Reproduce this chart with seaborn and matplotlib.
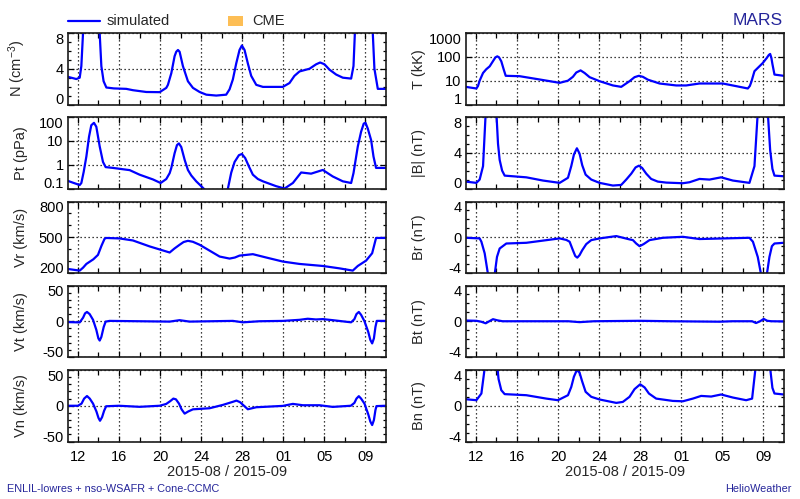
import pandas as pd
import matplotlib
matplotlib.use("Agg")
import matplotlib.pyplot as plt
import matplotlib.dates as mdates
from matplotlib.lines import Line2D
from matplotlib.patches import Rectangle
from matplotlib.ticker import AutoMinorLocator, NullLocator, FixedLocator
import seaborn as sns

# ==========================================
# DATA  (time = days after 2015-08-11 00:00)
# ==========================================
n_days = [0.0, 0.84, 1.17, 1.33, 1.45, 1.56, 1.9, 2.3, 2.7, 3.05, 3.28, 3.5, 3.77, 4.5, 5.71, 6.36,
          7.66, 8.96, 9.61, 9.77, 10.1, 10.42, 10.58, 10.75, 10.91, 11.23, 11.72, 12.21, 12.86,
          13.51, 14.48, 15.45, 15.78, 16.1, 16.43, 16.75, 16.98, 17.24, 17.56, 17.89, 18.38, 19.03,
          20.97, 21.62, 22.1, 22.6, 23.57, 24.22, 24.61, 25.03, 25.52, 26.17, 26.82, 27.63, 27.86,
          28.05, 28.5, 29.0, 29.5, 29.68, 29.9, 30.23, 31.0]
n_vals = [3.1, 2.85, 3.0, 4.3, 7.0, 9.5, 18, 24, 20, 9.5, 4.3, 2.6, 1.9, 1.8, 1.75, 1.6, 1.4, 1.38,
          1.86, 2.2, 3.5, 5.4, 5.9, 6.1, 5.9, 4.3, 2.6, 1.86, 1.4, 1.1, 1.0, 1.1, 1.7, 2.8, 4.6, 6.1,
          6.6, 6.1, 4.6, 3.2, 2.2, 1.97, 1.97, 2.4, 3.2, 3.7, 4.0, 4.5, 4.7, 4.5, 3.9, 3.35, 3.0, 2.9,
          4.3, 9.5, 20, 26, 18, 9.5, 4.0, 1.75, 1.75]

pt_days = [0.0, 0.6, 1.17, 1.33, 1.56, 1.82, 2.08, 2.3, 2.56, 2.79, 3.12, 3.44, 3.7, 4.42, 6.04,
           7.01, 8.31, 9.06, 9.61, 9.94, 10.1, 10.42, 10.65, 10.84, 11.07, 11.4, 11.72, 12.05,
           12.53, 13.25, 13.67, 14.48, 15.13, 15.62, 15.94, 16.27, 16.69, 16.98, 17.3, 17.66,
           18.05, 18.54, 19.03, 20.32, 21.14, 21.95, 22.76, 23.73, 24.87, 25.84, 26.82, 27.63,
           27.86, 28.28, 28.6, 28.86, 29.03, 29.25, 29.58, 29.81, 30.06, 31.0]
pt_vals = [0.21, 0.17, 0.14, 0.17, 0.5, 2.2, 15, 45, 57, 39, 5.8, 1.3, 0.79, 0.73, 0.59, 0.38, 0.24,
           0.17, 0.25, 0.44, 0.73, 3.0, 6.6, 7.8, 5.5, 1.6, 0.6, 0.35, 0.2, 0.1, 0.06, 0.03, 0.04,
           0.1, 0.46, 1.3, 2.5, 2.8, 1.9, 0.85, 0.38, 0.25, 0.2, 0.125, 0.1, 0.17, 0.47, 0.42, 0.6,
           0.32, 0.2, 0.17, 0.44, 5.8, 24, 53, 57, 33, 10.7, 2.2, 0.73, 0.73]

vr_days = [0.0, 1.17, 1.5, 1.82, 2.5, 2.95, 3.3, 3.6, 3.77, 5.06, 6.36, 7.99, 9.94, 10.4, 10.91,
           11.3, 11.72, 12.2, 12.86, 14.81, 15.78, 16.3, 16.75, 18.05, 19.35, 20.97, 22.6, 24.87,
           26.49, 27.79, 28.28, 29.09, 29.68, 29.9, 30.06, 31.0]
vr_vals = [234, 220, 245, 276, 315, 352, 430, 488, 494, 490, 473, 423, 372, 405, 437, 460, 470,
           462, 437, 338, 321, 330, 346, 358, 330, 296, 276, 259, 239, 220, 259, 304, 366, 440,
           494, 494]

vt_days = [0.03, 1.17, 1.5, 1.69, 1.88, 2.14, 2.47, 2.79, 2.99, 3.12, 3.28, 3.51, 3.7, 4.09, 9.94,
           10.91, 11.88, 16.1, 17.08, 18.7, 21.0, 22.6, 23.4, 24.2, 24.87, 25.84, 27.63, 27.95,
           28.15, 28.38, 28.6, 28.93, 29.3, 29.5, 29.68, 29.85, 30.0, 30.13, 31.0]
vt_vals = [-1.2, -1.6, 5, 11, 13, 10, 2, -12, -24, -27, -22, -8, -0.5, 0.5, -0.5, 1.5, -0.5, 0.5,
           -1.5, 0, 0.5, 2.0, 3.5, 2.5, 3.0, 1.5, -1.5, 3, 10, 13, 9, 0, -15, -26, -31, -24, -8,
           0.5, 0.5]

vn_days = [0.03, 1.0, 1.35, 1.6, 1.88, 2.15, 2.47, 2.8, 3.0, 3.15, 3.35, 3.55, 3.75, 5.0, 7.01, 8.96,
           9.6, 10.0, 10.3, 10.55, 10.85, 11.1, 11.4, 11.75, 12.21, 13.83, 15.13, 16.1, 16.45,
           16.8, 17.56, 18.38, 20.97, 21.95, 22.92, 24.55, 25.84, 27.6, 27.95, 28.15, 28.38, 28.6,
           28.93, 29.3, 29.5, 29.68, 29.85, 30.0, 30.1, 31.0]
vn_vals = [0, 0, 3, 10, 13.6, 10, 3, -8, -17, -21, -16, -7, -0.7, 0, -1.5, 0, 2.5, 6.5, 10, 9, 3,
           -5, -11, -8, -5, -3.5, 1.2, 5.5, 7.2, 5, -4.9, -2.1, -0.2, 2.6, 0.7, 0.7, -1.6, 0, 4,
           10, 13.4, 10, 3, -12, -22, -27, -20, -6, -0.5, 0]

t_days = [0.0, 1.04, 1.2, 1.36, 1.69, 2.0, 2.34, 2.7, 2.9, 3.08, 3.25, 3.47, 3.7, 3.9, 5.26, 7.21,
          9.16, 9.97, 10.45, 10.78, 11.2, 11.59, 12.08, 13.05, 14.35, 15.16, 15.97, 16.46, 16.88,
          17.27, 17.76, 18.9, 20.52, 21.49, 22.79, 25.06, 26.36, 27.5, 27.7, 27.85, 28.15, 28.96,
          29.35, 29.55, 29.68, 29.8, 29.9, 30.1, 31.0]
t_vals = [5.5, 4.7, 6, 10, 21, 30, 40, 70, 95, 105, 95, 65, 30, 16, 15.4, 11.2, 8.1, 10, 14.5, 22,
          27, 21, 14, 9.5, 6.3, 5.5, 9.5, 14, 16, 14.5, 11, 7.6, 6.3, 6.3, 7.6, 7.6, 5.9, 4.7, 6,
          9, 25, 55, 90, 120, 132, 90, 50, 18, 16]

b_days = [0.0, 1.04, 1.36, 1.69, 1.95, 2.2, 2.5, 2.8, 2.99, 3.15, 3.31, 3.55, 3.8, 5.91, 7.53, 9.16,
          9.97, 10.29, 10.55, 10.84, 11.1, 11.36, 11.69, 12.24, 13.05, 14.35, 15.16, 15.65, 16.14,
          16.56, 16.88, 17.2, 17.6, 18.08, 18.73, 19.55, 21.17, 21.82, 22.79, 23.77, 24.9, 26.04,
          27.66, 28.15, 28.47, 28.8, 29.2, 29.45, 29.68, 29.9, 30.1, 31.0]
b_vals = [0.77, 0.63, 1.0, 2.5, 8.5, 14, 16, 13, 8.5, 5.0, 3.2, 2.0, 1.44, 1.25, 0.89, 0.63, 1.2,
          2.5, 3.8, 4.5, 3.9, 2.6, 1.55, 1.0, 0.63, 0.33, 0.4, 1.0, 1.66, 2.36, 2.55, 2.3, 1.66,
          1.07, 0.77, 0.66, 0.59, 0.7, 1.07, 1.0, 1.25, 0.89, 0.63, 2.5, 8.5, 14, 16, 8.5, 4.3,
          2.2, 1.44, 1.37]

br_days = [0.0, 1.36, 1.53, 1.85, 2.18, 2.4, 2.65, 2.82, 3.05, 3.31, 3.96, 5.91, 9.16, 9.81, 10.13,
           10.45, 10.68, 10.88, 11.1, 11.36, 11.75, 12.24, 13.05, 14.68, 15.97, 16.3, 16.62, 16.95,
           17.34, 17.92, 19.22, 21.17, 22.79, 27.66, 28.0, 28.47, 28.8, 29.05, 29.35, 29.61,
           29.85, 30.1, 31.0]
br_vals = [-0.06, -0.13, -0.5, -1.8, -4.2, -7, -7, -4.2, -2.2, -1.26, -0.7, -0.62, -0.13, -0.3,
           -0.5, -1.45, -2.1, -2.28, -2.0, -1.45, -0.77, -0.32, -0.13, 0.13, -0.24, -0.32, -0.7,
           -1.0, -0.77, -0.32, -0.06, 0.05, -0.2, -0.06, -0.5, -2.2, -4.2, -7, -4.2, -2.2, -1.0,
           -0.7, -0.62]

bt_days = [0.0, 1.04, 1.5, 1.95, 2.3, 2.66, 3.1, 3.6, 10.0, 11.1, 12.5, 16.95, 20.0, 24.74, 26.0,
           27.92, 28.3, 28.7, 29.05, 29.4, 29.8, 31.0]
bt_vals = [0.08, 0.05, -0.05, -0.23, 0.0, 0.23, 0.1, 0.0, 0.0, -0.1, 0.0, 0.05, 0.0, -0.05, 0.0,
           0.0, -0.2, 0.0, 0.26, 0.05, 0.0, -0.02]

bn_days = [0.0, 1.04, 1.53, 1.85, 2.2, 2.6, 2.99, 3.2, 3.47, 3.8, 5.91, 7.86, 8.99, 9.97, 10.29,
           10.55, 10.84, 11.1, 11.36, 11.69, 12.24, 13.05, 14.68, 15.32, 15.97, 16.46, 17.01,
           17.44, 17.86, 18.57, 20.19, 21.17, 22.14, 22.95, 23.93, 24.9, 26.04, 27.34, 27.92,
           28.25, 28.6, 29.0, 29.4, 29.68, 29.9, 30.1, 31.0]
bn_vals = [0.73, 0.62, 1.37, 4.2, 9, 11, 5.5, 3.0, 1.74, 1.3, 1.18, 0.8, 0.62, 1.18, 2.1, 3.25,
           4.0, 3.7, 2.7, 1.56, 1.0, 0.7, 0.32, 0.43, 1.0, 1.86, 2.4, 2.05, 1.37, 0.8, 0.54, 0.5,
           0.8, 1.1, 1.03, 1.26, 0.92, 0.62, 0.8, 4.2, 9, 11, 9, 4.2, 2.0, 1.37, 1.26]

start = pd.Timestamp("2015-08-11")
end = pd.Timestamp("2015-09-11")

# ==========================================
# STYLE
# ==========================================
sns.set_theme(style="ticks")
plt.rcParams["font.family"] = ["Liberation Sans", "DejaVu Sans"]
plt.rcParams["mathtext.default"] = "regular"
plt.rcParams["font.size"] = 10

LINE = "#0000ff"
TXT_BLUE = "#25259a"

fig = plt.figure(figsize=(8, 4.99), dpi=100)
W, H = 800.0, 499.0

col_left = [67.7, 465.7]
col_w = 318.0
row_top = [33, 117, 201.5, 285.5, 370]
row_h = 71.5

major_days = pd.date_range("2015-08-12", "2015-09-10", freq="4D")
minor_days = pd.date_range("2015-08-12", "2015-09-10", freq="2D")


def panel(col, row, days, vals, label, ylim, ticks, labels, log=False, nminor=None):
    rect = [col_left[col] / W, 1 - (row_top[row] + row_h) / H, col_w / W, row_h / H]
    ax = fig.add_axes(rect)
    if log:
        ax.set_yscale("log")
    times = start + pd.to_timedelta(days, unit="D")
    sns.lineplot(x=times, y=vals, ax=ax, color=LINE, linewidth=1.6, estimator=None)

    ax.set_xlim(start, end)
    ax.xaxis.set_major_locator(FixedLocator(mdates.date2num(major_days)))
    ax.xaxis.set_minor_locator(FixedLocator(mdates.date2num(minor_days)))
    ax.xaxis.set_major_formatter(mdates.DateFormatter("%d"))

    ax.set_ylim(*ylim)
    ax.set_yticks(ticks)
    ax.set_yticklabels(labels)
    if nminor:
        ax.yaxis.set_minor_locator(AutoMinorLocator(nminor))
    else:
        ax.yaxis.set_minor_locator(NullLocator())

    ax.tick_params(which="both", direction="in", top=True, right=True, colors="black",
                   labelsize=10.5, width=0.9)
    ax.tick_params(which="major", length=4.5, pad=3)
    ax.tick_params(which="minor", length=2.5)
    ax.tick_params(axis="x", which="minor", length=3.5)
    ax.tick_params(axis="x", pad=6)
    tl = ax.get_yticklabels()
    tl[0].set_va("baseline")
    tl[-1].set_va("top")

    ax.grid(True, which="major", color="black", linestyle=(0, (1, 2.2)), linewidth=0.9)
    for sp in ax.spines.values():
        sp.set_color("#1a1a1a")
        sp.set_linewidth(1.2)

    ax.set_ylabel(label, fontsize=10.5)
    ax.yaxis.set_label_coords(-0.125, 0.5)
    if row == 4:
        ax.set_xlabel("2015-08 / 2015-09", fontsize=10.5, labelpad=1)
    else:
        ax.set_xlabel("")
        ax.tick_params(axis="x", labelbottom=False)
    return ax


# left column
panel(0, 0, n_days, n_vals, "N (cm$^{-3}$)", (0, 8), [0, 4, 8], ["0", "4", "8"], nminor=4)
panel(0, 1, pt_days, pt_vals, "Pt (pPa)", (0.1, 100), [0.1, 1, 10, 100],
      ["0.1", "1", "10", "100"], log=True)
panel(0, 2, vr_days, vr_vals, "Vr (km/s)", (200, 800), [200, 500, 800],
      ["200", "500", "800"], nminor=3)
panel(0, 3, vt_days, vt_vals, "Vt (km/s)", (-50, 50), [-50, 0, 50], ["-50", "0", "50"], nminor=5)
panel(0, 4, vn_days, vn_vals, "Vn (km/s)", (-50, 50), [-50, 0, 50], ["-50", "0", "50"], nminor=5)

# right column
panel(1, 0, t_days, t_vals, "T (kK)", (1, 1000), [1, 10, 100, 1000],
      ["1", "10", "100", "1000"], log=True)
panel(1, 1, b_days, b_vals, "|B| (nT)", (0, 8), [0, 4, 8], ["0", "4", "8"], nminor=4)
panel(1, 2, br_days, br_vals, "Br (nT)", (-4, 4), [-4, 0, 4], ["-4", "0", "4"], nminor=4)
panel(1, 3, bt_days, bt_vals, "Bt (nT)", (-4, 4), [-4, 0, 4], ["-4", "0", "4"], nminor=4)
panel(1, 4, bn_days, bn_vals, "Bn (nT)", (-4, 4), [-4, 0, 4], ["-4", "0", "4"], nminor=4)

# ==========================================
# LEGEND + ANNOTATIONS
# ==========================================
ly = 1 - 20.7 / H
fig.add_artist(Line2D([68 / W, 100 / W], [ly, ly], transform=fig.transFigure,
                      color=LINE, linewidth=1.6))
fig.text(107 / W, ly, "simulated", va="center", ha="left", fontsize=10.5)
fig.add_artist(Rectangle((228 / W, 1 - 26 / H), 15 / W, 10 / H, transform=fig.transFigure,
                         facecolor="#fdbe55", edgecolor="none"))
fig.text(252 / W, ly, "CME", va="center", ha="left", fontsize=10.5)

fig.text(783 / W, 1 - 25 / H, "MARS", ha="right", va="baseline", fontsize=12.5, color=TXT_BLUE)
fig.text(7 / W, 1 - 489.5 / H, "ENLIL-lowres + nso-WSAFR + Cone-CCMC", ha="left", va="center",
         fontsize=7.8, color=TXT_BLUE)
fig.text(792 / W, 1 - 489.5 / H, "HelioWeather", ha="right", va="center",
         fontsize=7.8, color=TXT_BLUE)

fig.savefig("out.png", dpi=100)
